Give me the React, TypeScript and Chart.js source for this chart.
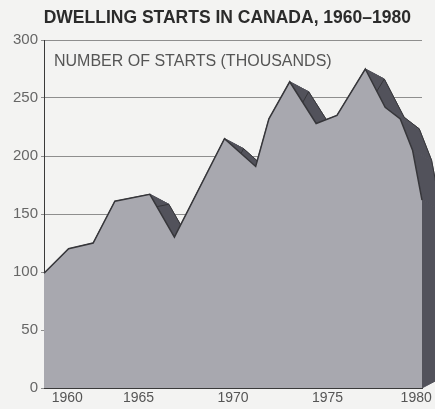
import React, { useEffect, useRef } from 'react';
import { Chart, registerables } from 'chart.js';

Chart.register(...registerables);

const TITLE = 'DWELLING STARTS IN CANADA, 1960–1980';
const SUBTITLE = 'NUMBER OF STARTS (THOUSANDS)';

// profile vertices (year, thousands of starts)
const years = [1960, 1961.3, 1962.6, 1963.75, 1965.6, 1966.9, 1969.55, 1971.2, 1971.9, 1973.0, 1974.4, 1975.5, 1977.0, 1978.05, 1978.85, 1979.5, 1980];
const starts = [99, 120, 125, 161, 167, 130, 215, 191, 232, 264, 228, 235, 275, 242, 232, 205, 162];

const xTickLabels = ['1960', '1965', '1970', '1975', '1980'];
const yTickValues = [0, 50, 100, 150, 200, 250, 300];

const FONT = '"Liberation Sans", Arial, Helvetica, sans-serif';
const FRONT = '#a8a8af';
const SIDE = '#52525b';
const EDGE = '#36363a';
const DEPTH_X = 19;
const DEPTH_Y = 10;
const BOTTOM_RISE = 10;

const depthPlugin = {
  id: 'depth',
  beforeDatasetsDraw(chart: any) {
    const meta = chart.getDatasetMeta(0);
    const pts = meta.data.map((p: any) => ({ x: p.x, y: p.y }));
    if (!pts.length) return;
    const ctx = chart.ctx;
    const yBase = chart.scales.y.getPixelForValue(0);
    ctx.save();
    ctx.fillStyle = SIDE;
    ctx.strokeStyle = SIDE;
    ctx.lineWidth = 1;
    ctx.lineJoin = 'round';
    for (let i = 0; i < pts.length - 1; i++) {
      const a = pts[i];
      const b = pts[i + 1];
      ctx.beginPath();
      ctx.moveTo(a.x, a.y);
      ctx.lineTo(b.x, b.y);
      ctx.lineTo(b.x + DEPTH_X, b.y + DEPTH_Y);
      ctx.lineTo(a.x + DEPTH_X, a.y + DEPTH_Y);
      ctx.closePath();
      ctx.fill();
      ctx.stroke();
    }
    const last = pts[pts.length - 1];
    ctx.beginPath();
    ctx.moveTo(last.x, last.y);
    ctx.lineTo(last.x + DEPTH_X, last.y + DEPTH_Y);
    ctx.lineTo(last.x + DEPTH_X, yBase - BOTTOM_RISE);
    ctx.lineTo(last.x, yBase);
    ctx.closePath();
    ctx.fill();
    ctx.stroke();
    ctx.strokeStyle = EDGE;
    ctx.beginPath();
    pts.forEach((p: any, i: number) => {
      if (i === 0) ctx.moveTo(p.x + DEPTH_X, p.y + DEPTH_Y);
      else ctx.lineTo(p.x + DEPTH_X, p.y + DEPTH_Y);
    });
    ctx.stroke();
    ctx.restore();
  },
};

const textPlugin = {
  id: 'texts',
  afterDraw(chart: any) {
    const { ctx, chartArea } = chart;
    ctx.save();
    ctx.textBaseline = 'middle';
    ctx.fillStyle = '#2b2b2b';
    ctx.font = `bold 17.5px ${FONT}`;
    ctx.textAlign = 'center';
    ctx.fillText(TITLE, chartArea.left + (chartArea.right - chartArea.left) * 0.485, chartArea.top - 22);
    ctx.fillStyle = '#555555';
    ctx.font = `16px ${FONT}`;
    ctx.textAlign = 'left';
    ctx.fillText(SUBTITLE, chartArea.left + 10, chartArea.top + 22);
    ctx.restore();
  },
};

export default function App() {
  const ref = useRef<HTMLCanvasElement | null>(null);

  useEffect(() => {
    if (!ref.current) return;
    const chart = new Chart(ref.current, {
      type: 'line',
      data: {
        datasets: [
          {
            data: years.map((x, i) => ({ x, y: starts[i] })),
            fill: 'origin',
            backgroundColor: FRONT,
            borderColor: EDGE,
            borderWidth: 1.5,
            pointRadius: 0,
            tension: 0,
            clip: false as any,
          },
        ],
      },
      options: {
        animation: false,
        responsive: false,
        devicePixelRatio: 1,
        layout: { padding: { top: 40, right: 13, left: 0, bottom: 0 } },
        plugins: { legend: { display: false }, title: { display: false }, tooltip: { enabled: false } },
        scales: {
          x: {
            type: 'linear',
            min: 1960,
            max: 1980,
            afterFit(scale: any) {
              scale.height = 21;
              scale.paddingLeft = 0;
              scale.paddingRight = 0;
            },
            afterBuildTicks(scale: any) {
              scale.ticks = xTickLabels.map((l) => ({ value: Number(l) }));
            },
            ticks: {
              autoSkip: false,
              maxRotation: 0,
              padding: 2,
              color: '#555555',
              font: { family: FONT, size: 14 },
              callback: (v: any, i: number) => {
                const s = String(v);
                if (i === 0) return '            ' + s;
                if (i === xTickLabels.length - 1) return s + '   ';
                return s;
              },
            },
            grid: { drawOnChartArea: false, drawTicks: false },
            border: { display: true, color: '#3a3a3a', width: 1 },
          },
          y: {
            min: 0,
            max: 300,
            afterFit(scale: any) {
              scale.width = 44;
            },
            afterBuildTicks(scale: any) {
              scale.ticks = yTickValues.map((v) => ({ value: v }));
            },
            ticks: {
              padding: 3,
              color: '#666666',
              font: { family: FONT, size: 15 },
            },
            grid: { color: '#8e8e8e', lineWidth: 1, tickLength: 3 },
            border: { display: true, color: '#3a3a3a', width: 1 },
          },
        },
      },
      plugins: [depthPlugin, textPlugin],
    });
    return () => chart.destroy();
  }, []);

  return (
    <div style={{ position: 'fixed', left: 0, top: 0, width: 435, height: 409, background: '#f3f3f2', overflow: 'hidden' }}>
      <canvas ref={ref} width={435} height={409} style={{ display: 'block' }} />
    </div>
  );
}
